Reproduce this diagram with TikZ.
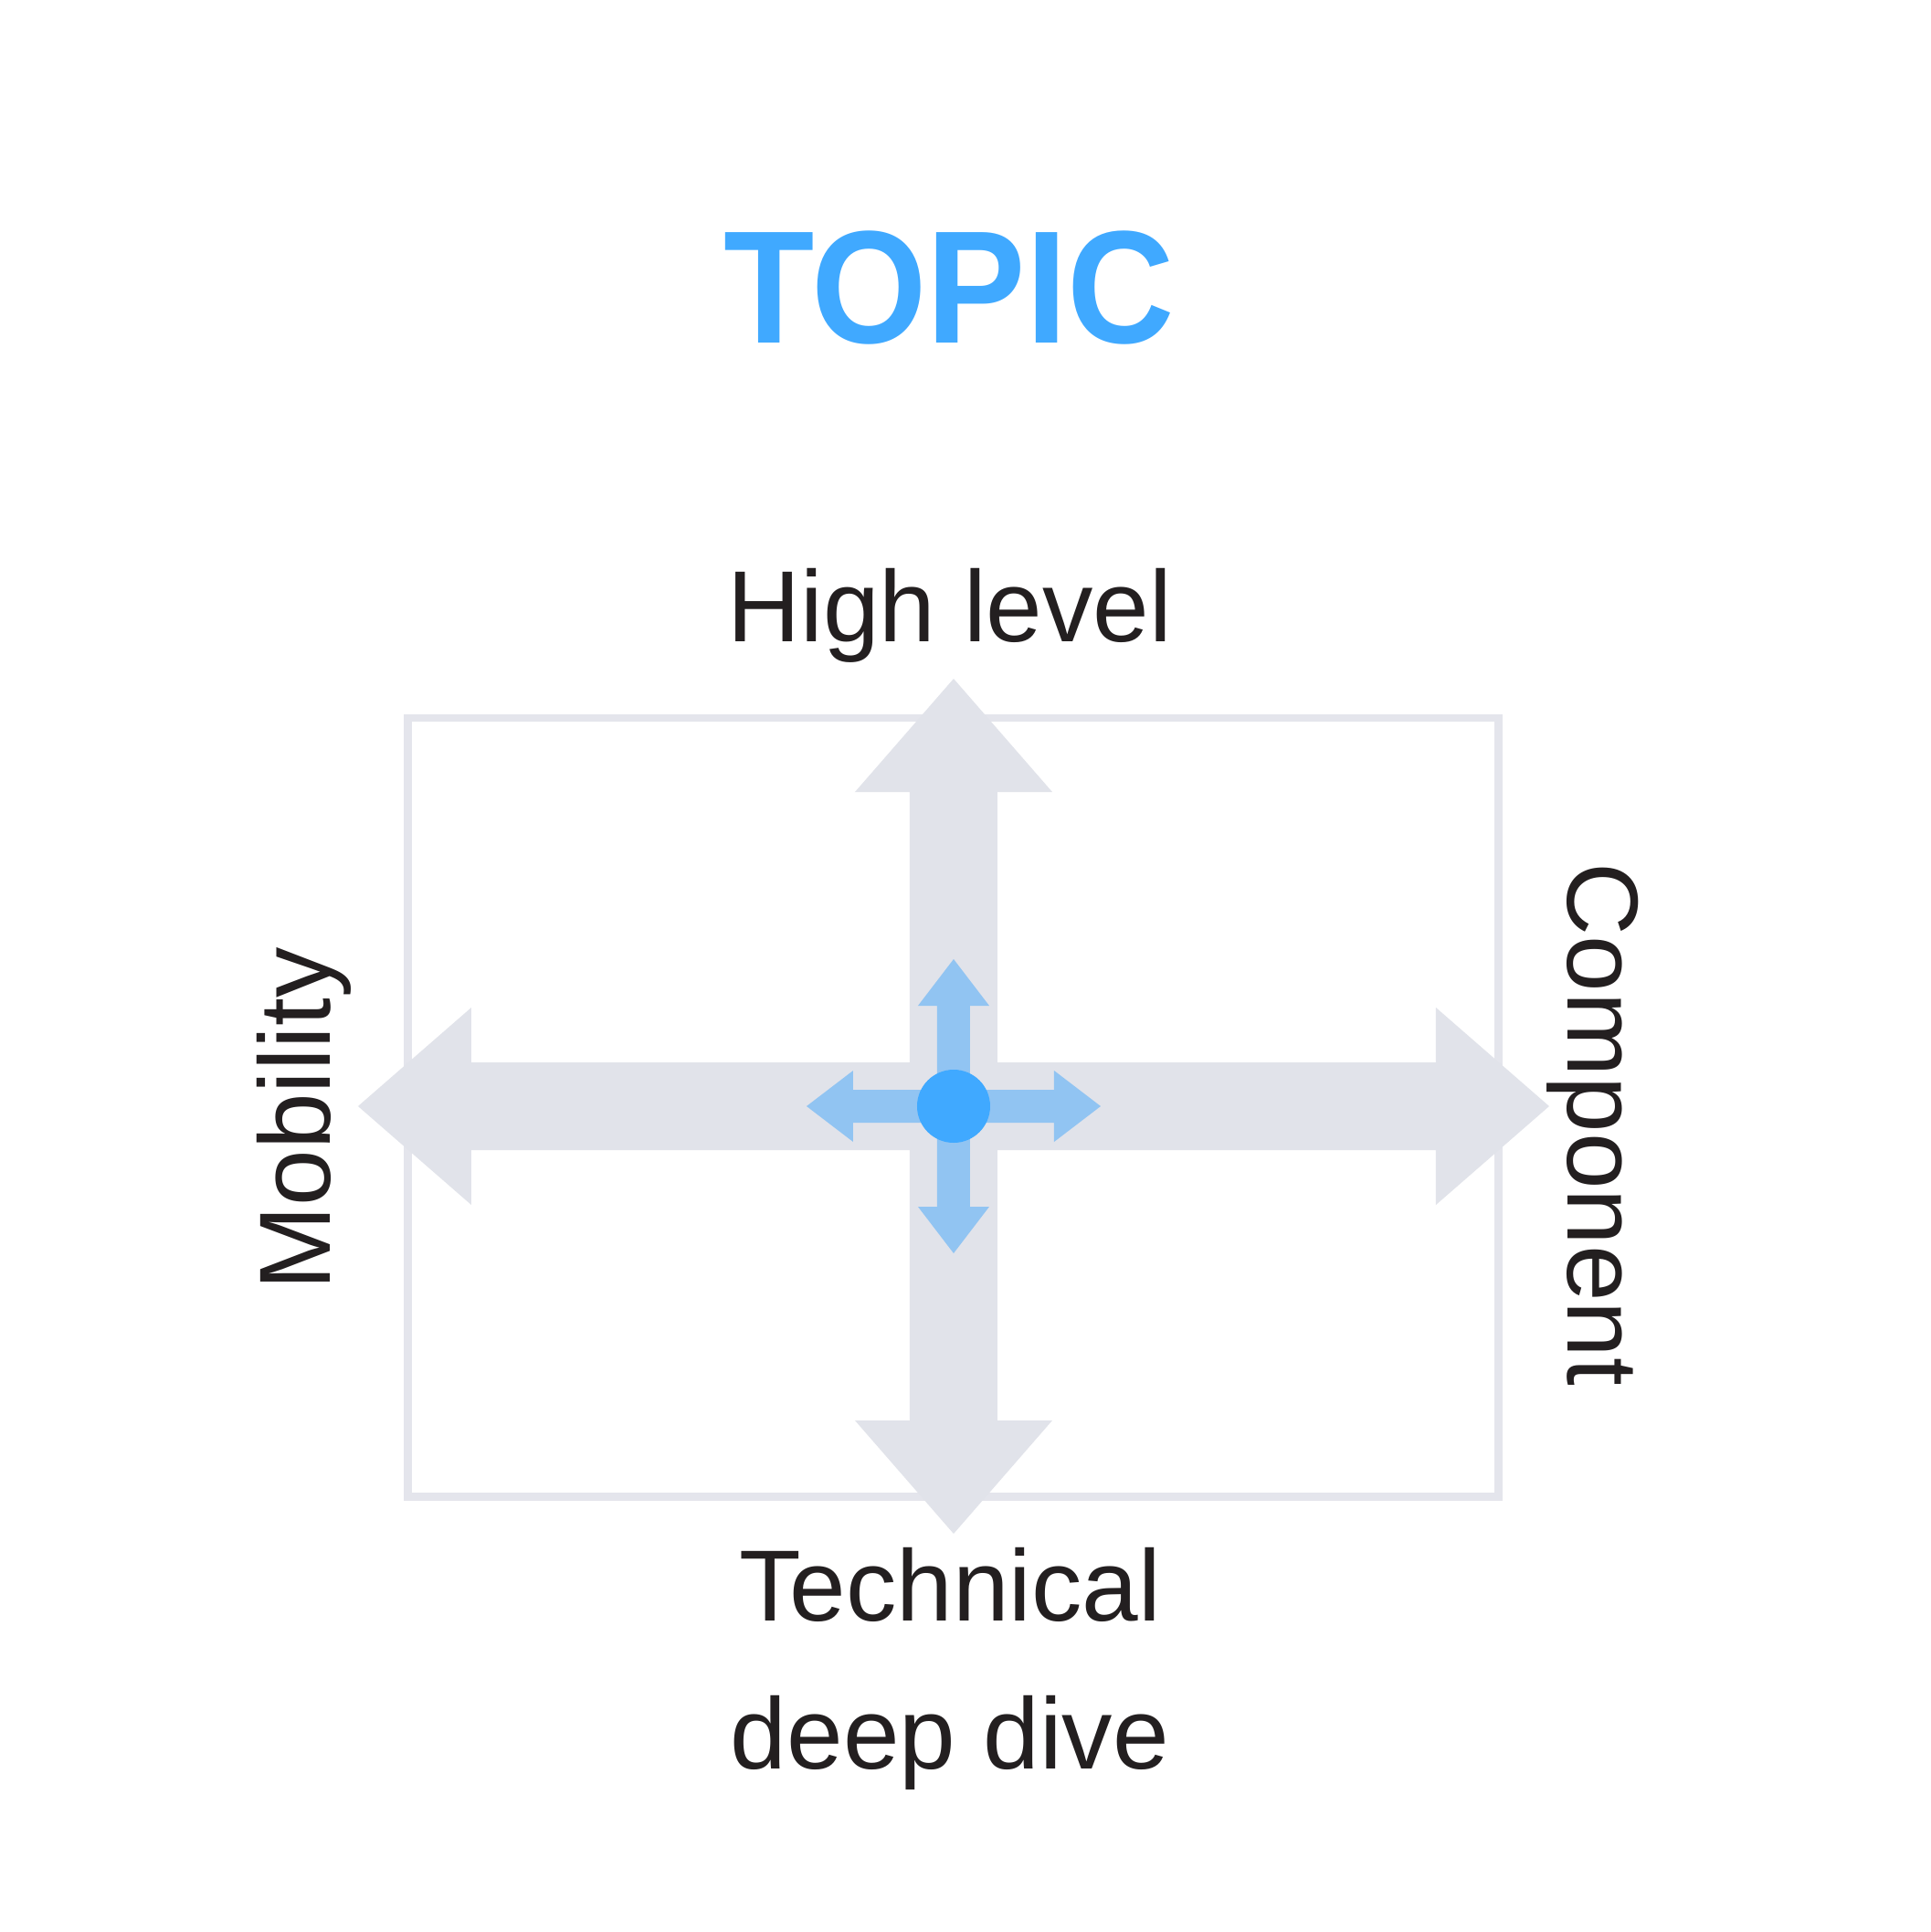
\documentclass[tikz,border=0pt]{standalone}
\usepackage{fontspec}
\setmainfont{Liberation Sans}

\definecolor{topicblue}{HTML}{40A9FF}
\definecolor{lightblue}{HTML}{91C4F2}
\definecolor{crossgray}{HTML}{E1E3EA}
\definecolor{framegray}{HTML}{E4E5EC}
\definecolor{ink}{HTML}{231F20}

\tikzset{
  axislabel/.style={font=\fontsize{31.5}{38}\selectfont, text=ink, inner sep=0pt},
  bigarrow/.style={fill=crossgray},
  smallarrow/.style={fill=lightblue},
}

\begin{document}
\begin{tikzpicture}

  \fill[white] (-10.44,-9.04) rectangle (10.70,12.11);
  \useasboundingbox (-10.44,-9.04) rectangle (10.70,12.11);

  % title
  \node[font=\fontsize{50}{60}\selectfont\bfseries, text=topicblue, anchor=base, inner sep=0pt] (topic) at (-0.05,8.35) {\scalebox{0.925}[1]{TOPIC}};

  % frame
  \draw[framegray, line width=0.09cm] (-5.97,-4.27) rectangle (5.96,4.25);

  % big cross
  \fill[bigarrow] (0,4.68) -- (1.08,3.44) -- (0.48,3.44) -- (0.48,-3.44) -- (1.08,-3.44) -- (0,-4.68)
    -- (-1.08,-3.44) -- (-0.48,-3.44) -- (-0.48,3.44) -- (-1.08,3.44) -- cycle;
  \fill[bigarrow] (6.52,0) -- (5.28,1.08) -- (5.28,0.48) -- (-5.28,0.48) -- (-5.28,1.08) -- (-6.52,0)
    -- (-5.28,-1.08) -- (-5.28,-0.48) -- (5.28,-0.48) -- (5.28,-1.08) -- cycle;

  % small cross
  \fill[smallarrow] (0,1.61) -- (0.39,1.10) -- (0.18,1.10) -- (0.18,-1.10) -- (0.39,-1.10) -- (0,-1.61)
    -- (-0.39,-1.10) -- (-0.18,-1.10) -- (-0.18,1.10) -- (-0.39,1.10) -- cycle;
  \fill[smallarrow] (1.61,0) -- (1.10,0.39) -- (1.10,0.18) -- (-1.10,0.18) -- (-1.10,0.39) -- (-1.61,0)
    -- (-1.10,-0.39) -- (-1.10,-0.18) -- (1.10,-0.18) -- (1.10,-0.39) -- cycle;

  \node[circle, fill=topicblue, minimum size=0.8cm, inner sep=0pt] (hub) at (0,0) {};

  % axis labels
  \node[axislabel, anchor=base] (high) at (-0.04,5.08) {High level};
  \node[axislabel, anchor=base] (tech) at (-0.04,-5.63) {Technical};
  \node[axislabel, anchor=base] (dive) at (-0.04,-7.25) {deep dive};
  \node[axislabel, anchor=base, rotate=90] (mobility) at (-6.82,-0.14) {Mobility};
  \node[axislabel, anchor=base, rotate=-90] (component) at (6.72,-0.20) {Component};

\end{tikzpicture}
\end{document}
